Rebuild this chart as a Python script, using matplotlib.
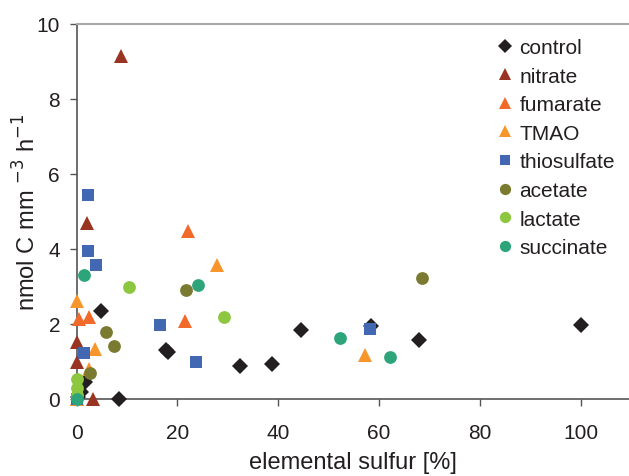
import matplotlib
matplotlib.use("Agg")
import matplotlib.pyplot as plt
from matplotlib.lines import Line2D

plt.rcParams['font.family'] = ['Liberation Sans', 'DejaVu Sans']

# ---- data ----
control_x = [100, 68, 58.5, 44.5, 38.8, 32.5, 17.8, 18.2, 4.8, 8.4, 1.6, 0.8, 0.3]
control_y = [1.97, 1.57, 1.95, 1.84, 0.93, 0.88, 1.32, 1.25, 2.36, 0.0, 0.45, 0.2, 0.05]

nitrate_x = [8.8, 2.0, 0.1, 0.1, 3.3]
nitrate_y = [9.15, 4.69, 1.51, 0.98, 0.0]

fumarate_x = [22.1, 21.5, 0.5, 2.5, 0.1]
fumarate_y = [4.48, 2.09, 2.13, 2.18, 0.0]

tmao_x = [27.8, 57.2, 0.1, 3.6, 2.4, 0.1]
tmao_y = [3.57, 1.17, 2.62, 1.33, 0.8, 0.0]

thio_x = [2.2, 2.2, 3.8, 16.5, 1.5, 23.6, 58.2, 0.0]
thio_y = [5.44, 3.94, 3.57, 1.97, 1.23, 1.0, 1.87, 0.0]

acetate_x = [68.5, 21.6, 5.8, 7.4, 2.6]
acetate_y = [3.24, 2.92, 1.8, 1.42, 0.69]

lactate_x = [10.4, 29.2, 0.0, 0.0, 0.0]
lactate_y = [3.0, 2.18, 0.53, 0.29, 0.1]

succinate_x = [1.5, 24.0, 52.2, 62.1, 0.0]
succinate_y = [3.31, 3.04, 1.64, 1.13, 0.0]

series = [
    ("control", control_x, control_y, "D", "#231F20", 7.8),
    ("nitrate", nitrate_x, nitrate_y, "^", "#983421", 9.8),
    ("fumarate", fumarate_x, fumarate_y, "^", "#F26A2A", 9.8),
    ("TMAO", tmao_x, tmao_y, "^", "#F7962A", 9.8),
    ("thiosulfate", thio_x, thio_y, "s", "#4268B3", 8.8),
    ("acetate", acetate_x, acetate_y, "o", "#7A7A30", 9.2),
    ("lactate", lactate_x, lactate_y, "o", "#8DC63F", 9.2),
    ("succinate", succinate_x, succinate_y, "o", "#2EA47A", 9.2),
]

fig = plt.figure(figsize=(6.29, 4.77), dpi=100)
ax = fig.add_axes([76.7 / 629, 1 - 400 / 477, (629 - 76.7) / 629, 375 / 477])

handles = []
for name, xs, ys, m, c, ms in series:
    ax.plot(xs, ys, linestyle="none", marker=m, color=c, markersize=ms,
            markeredgewidth=0, clip_on=False, zorder=3)
    handles.append(Line2D([], [], linestyle="none", marker=m, color=c,
                          markersize=ms * 0.88, markeredgewidth=0, label=name))

ax.set_xlim(0, 109.6)
ax.set_ylim(0, 10)
ax.set_xticks([0, 20, 40, 60, 80, 100])
ax.set_yticks([0, 2, 4, 6, 8, 10])

ax.spines['right'].set_visible(False)
ax.spines['top'].set_color('#A8A8A8')
ax.spines['top'].set_linewidth(1.5)
for s in ('left', 'bottom'):
    ax.spines[s].set_color('#555555')
    ax.spines[s].set_linewidth(1.2)

ax.tick_params(axis='both', direction='out', length=5, width=1.0,
               color='#555555', labelsize=15, labelcolor='#231F20')
ax.tick_params(axis='x', pad=12)
ax.tick_params(axis='y', pad=7)

ax.set_xlabel("elemental sulfur [%]", fontsize=17, color='#231F20', labelpad=7)
ax.set_ylabel("nmol C mm $^{-3}$ h$^{-1}$", fontsize=17, color='#231F20', labelpad=-3)

leg = fig.legend(handles=handles, loc='upper left',
                 bbox_to_anchor=(496.5 / 629, 1 - 39 / 477),
                 frameon=False, fontsize=15, handlelength=0.8, handletextpad=0.3,
                 labelspacing=0.46, borderpad=0, borderaxespad=0)
for t in leg.get_texts():
    t.set_color('#231F20')

fig.savefig("out.png", dpi=100)
